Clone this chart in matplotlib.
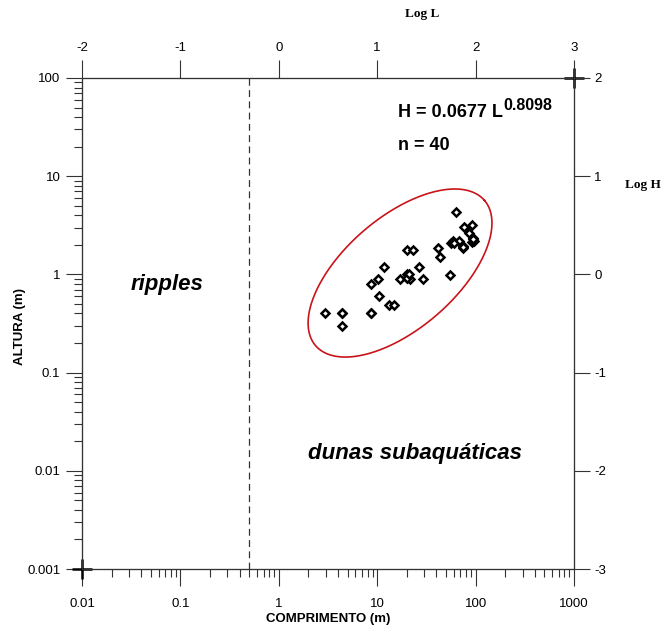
import numpy as np
import matplotlib
matplotlib.use('Agg')
import matplotlib.pyplot as plt
from matplotlib.ticker import FixedLocator, FixedFormatter, NullFormatter, LogLocator

# ---------------- data ----------------
comprimento_L = [2.95, 4.4, 4.4, 8.65, 10.4, 8.65, 10.1, 11.6, 13.1, 14.7,
                 17.1, 19.9, 20.2, 21.5, 19.9, 23.3, 26.6, 29.0, 41.8, 43.5,
                 55.3, 56.2, 59.3, 67.8, 75.0, 74.0, 62.8, 76.3, 91.3, 86.3,
                 94.8, 91.3, 96.5, 60.0, 75.0, 20.0, 95.0, 4.4, 8.65, 21.0]
altura_H = [0.40, 0.40, 0.30, 0.40, 0.60, 0.79, 0.89, 1.18, 0.49, 0.49,
            0.89, 1.00, 0.92, 0.89, 1.77, 1.77, 1.18, 0.89, 1.87, 1.49,
            0.99, 2.07, 2.17, 2.17, 1.95, 1.87, 4.29, 3.04, 3.21, 2.66,
            2.36, 2.15, 2.19, 2.10, 1.90, 0.92, 2.30, 0.40, 0.40, 1.00]

x_ticks = [0.01, 0.1, 1, 10, 100, 1000]
x_ticklabels = ['0.01', '0.1', '1', '10', '100', '1000']
y_ticks = [0.001, 0.01, 0.1, 1, 10, 100]
y_ticklabels = ['0.001', '0.01', '0.1', '1', '10', '100']
logL_ticks = [-2, -1, 0, 1, 2, 3]
logH_ticks = [-3, -2, -1, 0, 1, 2]

boundary_L = 0.5                    # ripples / dunas boundary
ellipse_center = (1.232, 0.014)     # (log10 L, log10 H)
ellipse_semi_axes = (1.133, 0.567)  # in decades
ellipse_angle_deg = 40.8

# ---------------- figure ----------------
plt.rcParams['font.family'] = ['Liberation Sans', 'DejaVu Sans']
W, Hpx = 672, 625
fig = plt.figure(figsize=(W / 100, Hpx / 100), dpi=100)
x0, x1, y0, y1 = 82, 574, 78, 569
ax = fig.add_axes([x0 / W, 1 - y1 / Hpx, (x1 - x0) / W, (y1 - y0) / Hpx])
ax.set_xscale('log')
ax.set_yscale('log')
ax.set_xlim(x_ticks[0], x_ticks[-1])
ax.set_ylim(y_ticks[0], y_ticks[-1])

spine_color = '#333333'
spine_lw = 0.8
for s in ax.spines.values():
    s.set_linewidth(spine_lw)
    s.set_color(spine_color)

ax.xaxis.set_major_locator(FixedLocator(x_ticks))
ax.xaxis.set_major_formatter(FixedFormatter(x_ticklabels))
ax.yaxis.set_major_locator(FixedLocator(y_ticks))
ax.yaxis.set_major_formatter(FixedFormatter(y_ticklabels))
ax.xaxis.set_minor_locator(LogLocator(base=10, subs=np.arange(2, 10), numticks=20))
ax.yaxis.set_minor_locator(LogLocator(base=10, subs=np.arange(2, 10), numticks=20))
ax.xaxis.set_minor_formatter(NullFormatter())
ax.yaxis.set_minor_formatter(NullFormatter())

ax.tick_params(axis='x', which='major', direction='out', length=12, width=0.8,
               pad=9, labelsize=9.5, color=spine_color, top=False)
ax.tick_params(axis='y', which='major', direction='out', length=11.5, width=0.8,
               pad=4, labelsize=9.5, color=spine_color, right=False)
ax.tick_params(axis='both', which='minor', direction='out', length=5.5, width=0.8,
               color=spine_color, top=False, right=False)

# top axis: Log L
ax_top = ax.twiny()
ax_top.set_xlim(logL_ticks[0], logL_ticks[-1])
ax_top.set_xticks(logL_ticks)
ax_top.set_xticklabels([str(v) for v in logL_ticks])
ax_top.tick_params(axis='x', which='major', direction='out', length=13, width=0.8,
                   pad=4, labelsize=9.5, color=spine_color)
ax_top.tick_params(axis='x', which='minor', bottom=False, top=False)
for s in ax_top.spines.values():
    s.set_linewidth(spine_lw)
    s.set_color(spine_color)

# right axis: Log H
ax_right = ax.twinx()
ax_right.set_ylim(logH_ticks[0], logH_ticks[-1])
ax_right.set_yticks(logH_ticks)
ax_right.set_yticklabels([str(v) for v in logH_ticks])
ax_right.tick_params(axis='y', which='major', direction='out', length=11.5, width=0.8,
                     pad=3, labelsize=9.5, color=spine_color)
ax_right.tick_params(axis='y', which='minor', left=False, right=False)
for s in ax_right.spines.values():
    s.set_linewidth(spine_lw)
    s.set_color(spine_color)

# ---------------- marks ----------------
ax.axvline(boundary_L, color='#333333', lw=0.9, ls=(0, (5.5, 3.5)))

t = np.linspace(0, 2 * np.pi, 400)
th = np.deg2rad(ellipse_angle_deg)
a, b = ellipse_semi_axes
ex = ellipse_center[0] + a * np.cos(t) * np.cos(th) - b * np.sin(t) * np.sin(th)
ey = ellipse_center[1] + a * np.cos(t) * np.sin(th) + b * np.sin(t) * np.cos(th)
ax.plot(10 ** ex, 10 ** ey, color='#c8141a', lw=1.2, zorder=3)

ax.plot(comprimento_L, altura_H, ls='none', marker='D', ms=3.6, mfc='white',
        mec='black', mew=1.8, zorder=4)

# corner crosses
ax.plot([0, 1], [0, 1], ls='none', marker='+', ms=14, mew=1.8, color='black',
        transform=ax.transAxes, clip_on=False, zorder=5)

# ---------------- text ----------------
ax.set_xlabel('COMPRIMENTO (m)', fontsize=9.5, fontweight='bold', labelpad=2)
ax.set_ylabel('ALTURA (m)', fontsize=9.5, fontweight='bold')
ax.yaxis.set_label_coords(-0.114, 0.493)

ax.text(0.691, 1.13, 'Log L', transform=ax.transAxes, ha='center', va='center',
        fontsize=9.5, fontweight='bold', family=['Liberation Serif', 'DejaVu Serif'])
ax.text(1.14, 0.782, 'Log H', transform=ax.transAxes, ha='center', va='center',
        fontsize=9.5, fontweight='bold', family=['Liberation Serif', 'DejaVu Serif'])

ax.text(0.173, 0.58, 'ripples', transform=ax.transAxes, ha='center', va='center',
        fontsize=16, fontweight='bold', style='italic')
ax.text(0.677, 0.236, 'dunas subaquáticas', transform=ax.transAxes, ha='center',
        va='center', fontsize=16, fontweight='bold', style='italic')

eq = ax.text(0.642, 0.929, 'H = 0.0677 L', transform=ax.transAxes, ha='left',
             va='center', fontsize=13, fontweight='bold')
ax.annotate('0.8098', xy=(1.0, 0.5), xycoords=eq, xytext=(0.5, 0),
            textcoords='offset points', ha='left', va='bottom',
            fontsize=11.5, fontweight='bold')
ax.text(0.642, 0.862, 'n = 40', transform=ax.transAxes, ha='left', va='center',
        fontsize=13, fontweight='bold')

fig.savefig('out.png', dpi=100)
